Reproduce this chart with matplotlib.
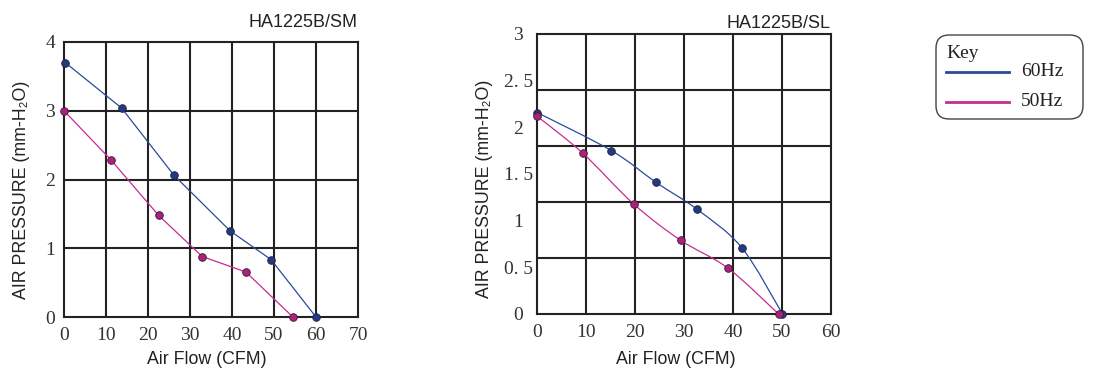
import matplotlib
matplotlib.use("Agg")
import matplotlib.pyplot as plt
from matplotlib.path import Path
from matplotlib.patches import PathPatch, FancyBboxPatch
from matplotlib.lines import Line2D
import numpy as np

# ---------------- data ----------------
sm_title = "HA1225B/SM"
sm_60_x = [0.3, 13.7, 26.2, 39.6, 49.3, 60.0]
sm_60_y = [3.70, 3.04, 2.06, 1.25, 0.835, 0.0]
sm_50_x = [0.0, 11.1, 22.5, 32.9, 43.3, 54.5]
sm_50_y = [3.00, 2.29, 1.48, 0.88, 0.655, 0.0]
sm_xticks = [0, 10, 20, 30, 40, 50, 60, 70]
sm_yticks = [0, 1, 2, 3, 4]

sl_title = "HA1225B/SL"
sl_60_x = [0.1, 15.2, 24.3, 32.7, 41.8, 50.1]
sl_60_y = [2.157, 1.75, 1.41, 1.12, 0.71, 0.0]
sl_50_x = [0.0, 9.3, 19.7, 29.3, 39.0, 49.3]
sl_50_y = [2.12, 1.725, 1.18, 0.79, 0.49, 0.0]
sl_xticks = [0, 10, 20, 30, 40, 50, 60]
sl_yticks = [0, 0.5, 1, 1.5, 2, 2.5, 3]
sl_yticklabels = ["0", "0. 5", "1", "1. 5", "2", "2. 5", "3"]
sl_ygrid = [0.6, 1.2, 1.8, 2.4]

legend_labels = ["60Hz", "50Hz"]

# ---------------- style ----------------
C60 = "#2b4a9a"
C50 = "#c42e92"
M60 = "#1f3b86"
M50 = "#b01f7e"
SERIF = ["Liberation Serif", "DejaVu Serif"]
SANS = ["Liberation Sans", "DejaVu Sans"]

W, H = 1094, 377
fig = plt.figure(figsize=(W / 100, H / 100), dpi=100)


def px_axes(l, t, r, b):
    return fig.add_axes([l / W, 1 - b / H, (r - l) / W, (b - t) / H])


def catmull_path(x, y):
    x = np.asarray(x, float)
    y = np.asarray(y, float)
    pts = np.column_stack([x, y])
    n = len(pts)
    verts = [pts[0]]
    codes = [Path.MOVETO]
    for i in range(n - 1):
        p0 = pts[i - 1] if i > 0 else pts[i]
        p1 = pts[i]
        p2 = pts[i + 1]
        p3 = pts[i + 2] if i + 2 < n else pts[i + 1]
        c1 = p1 + (p2 - p0) / 6.0
        c2 = p2 - (p3 - p1) / 6.0
        verts += [c1, c2, p2]
        codes += [Path.CURVE4] * 3
    return Path(verts, codes)


def style_axes(ax, xlim, ylim, xticks, yticks, yticklabels, ypad):
    ax.set_xlim(*xlim)
    ax.set_ylim(*ylim)
    ax.set_xticks(xticks)
    ax.set_xticklabels([str(t) for t in xticks], family=SERIF, fontsize=14,
                       color="#333333")
    ax.set_yticks(yticks)
    ax.set_yticklabels(yticklabels, family=SERIF, fontsize=14,
                       color="#333333", ha="center")
    ax.tick_params(axis="x", length=0, pad=7)
    ax.tick_params(axis="y", length=0, pad=ypad)
    for s in ax.spines.values():
        s.set_linewidth(1.5)
        s.set_color("#222222")


def plot_series(ax, x, y, line_c, marker_c, smooth):
    if smooth:
        ax.add_patch(PathPatch(catmull_path(x, y), fill=False, ec=line_c,
                               lw=0.9, zorder=3))
    else:
        ax.plot(x, y, color=line_c, lw=0.9, zorder=3)
    ax.plot(x, y, ls="none", marker="o", ms=5.5, mfc=marker_c, mec="#2a2030",
            mew=0.6, zorder=4, clip_on=False)


# ---------------- left chart ----------------
ax1 = px_axes(64, 42, 358, 317)
style_axes(ax1, (0, 70), (0, 4), sm_xticks, sm_yticks,
           [str(t) for t in sm_yticks], 10)
for v in sm_xticks[1:-1]:
    ax1.axvline(v, color="#222222", lw=1.5, zorder=1)
for v in sm_yticks[1:-1]:
    ax1.axhline(v, color="#222222", lw=1.5, zorder=1)
plot_series(ax1, sm_60_x, sm_60_y, C60, M60, False)
plot_series(ax1, sm_50_x, sm_50_y, C50, M50, False)
ax1.set_title(sm_title, loc="right", family=SANS, fontsize=13, pad=11,
              color="#222222")
ax1.set_xlabel("Air Flow (CFM)", family=SANS, fontsize=12.8, va="center",
               color="#222222")
ax1.xaxis.set_label_coords(0.486, -0.153)
ax1.set_ylabel("AIR PRESSURE (mm-H₂O)", family=SANS, fontsize=12.8,
               va="center", color="#222222")
ax1.yaxis.set_label_coords(-0.143, 0.462)

# ---------------- right chart ----------------
ax2 = px_axes(537, 34, 831, 314)
style_axes(ax2, (0, 60), (0, 3), sl_xticks, sl_yticks, sl_yticklabels, 13.5)
for v in sl_xticks[1:-1]:
    ax2.axvline(v, color="#222222", lw=1.5, zorder=1)
for v in sl_ygrid:
    ax2.axhline(v, color="#222222", lw=1.5, zorder=1)
plot_series(ax2, sl_60_x, sl_60_y, C60, M60, True)
plot_series(ax2, sl_50_x, sl_50_y, C50, M50, True)
ax2.set_title(sl_title, loc="right", family=SANS, fontsize=13, pad=4,
              color="#222222")
ax2.set_xlabel("Air Flow (CFM)", family=SANS, fontsize=12.8, va="center",
               color="#222222")
ax2.xaxis.set_label_coords(0.473, -0.161)
ax2.set_ylabel("AIR PRESSURE (mm-H₂O)", family=SANS, fontsize=12.8,
               va="center", color="#222222")
ax2.yaxis.set_label_coords(-0.180, 0.446)

# ---------------- legend ----------------
lx0, ly0, lx1, ly1 = 936, 35, 1083, 119
box = FancyBboxPatch((lx0 / W, 1 - ly1 / H), (lx1 - lx0) / W, (ly1 - ly0) / H,
                     boxstyle="round,pad=0,rounding_size=0.012",
                     transform=fig.transFigure, fc="white", ec="#444444",
                     lw=1.0, mutation_aspect=W / H)
fig.add_artist(box)
fig.text(946 / W, 1 - 53 / H, "Key", family=SERIF, fontsize=14,
         va="center", ha="left", color="#222222")
for lab, c, yy in zip(legend_labels, [C60, C50], [72, 102]):
    fig.add_artist(Line2D([946 / W, 1009 / W], [1 - yy / H, 1 - yy / H],
                          color=c, lw=2, transform=fig.transFigure))
    fig.text(1021 / W, 1 - yy / H, lab, family=SERIF, fontsize=14,
             va="center", ha="left", color="#222222")

fig.savefig("out.png", dpi=100, facecolor="white")
